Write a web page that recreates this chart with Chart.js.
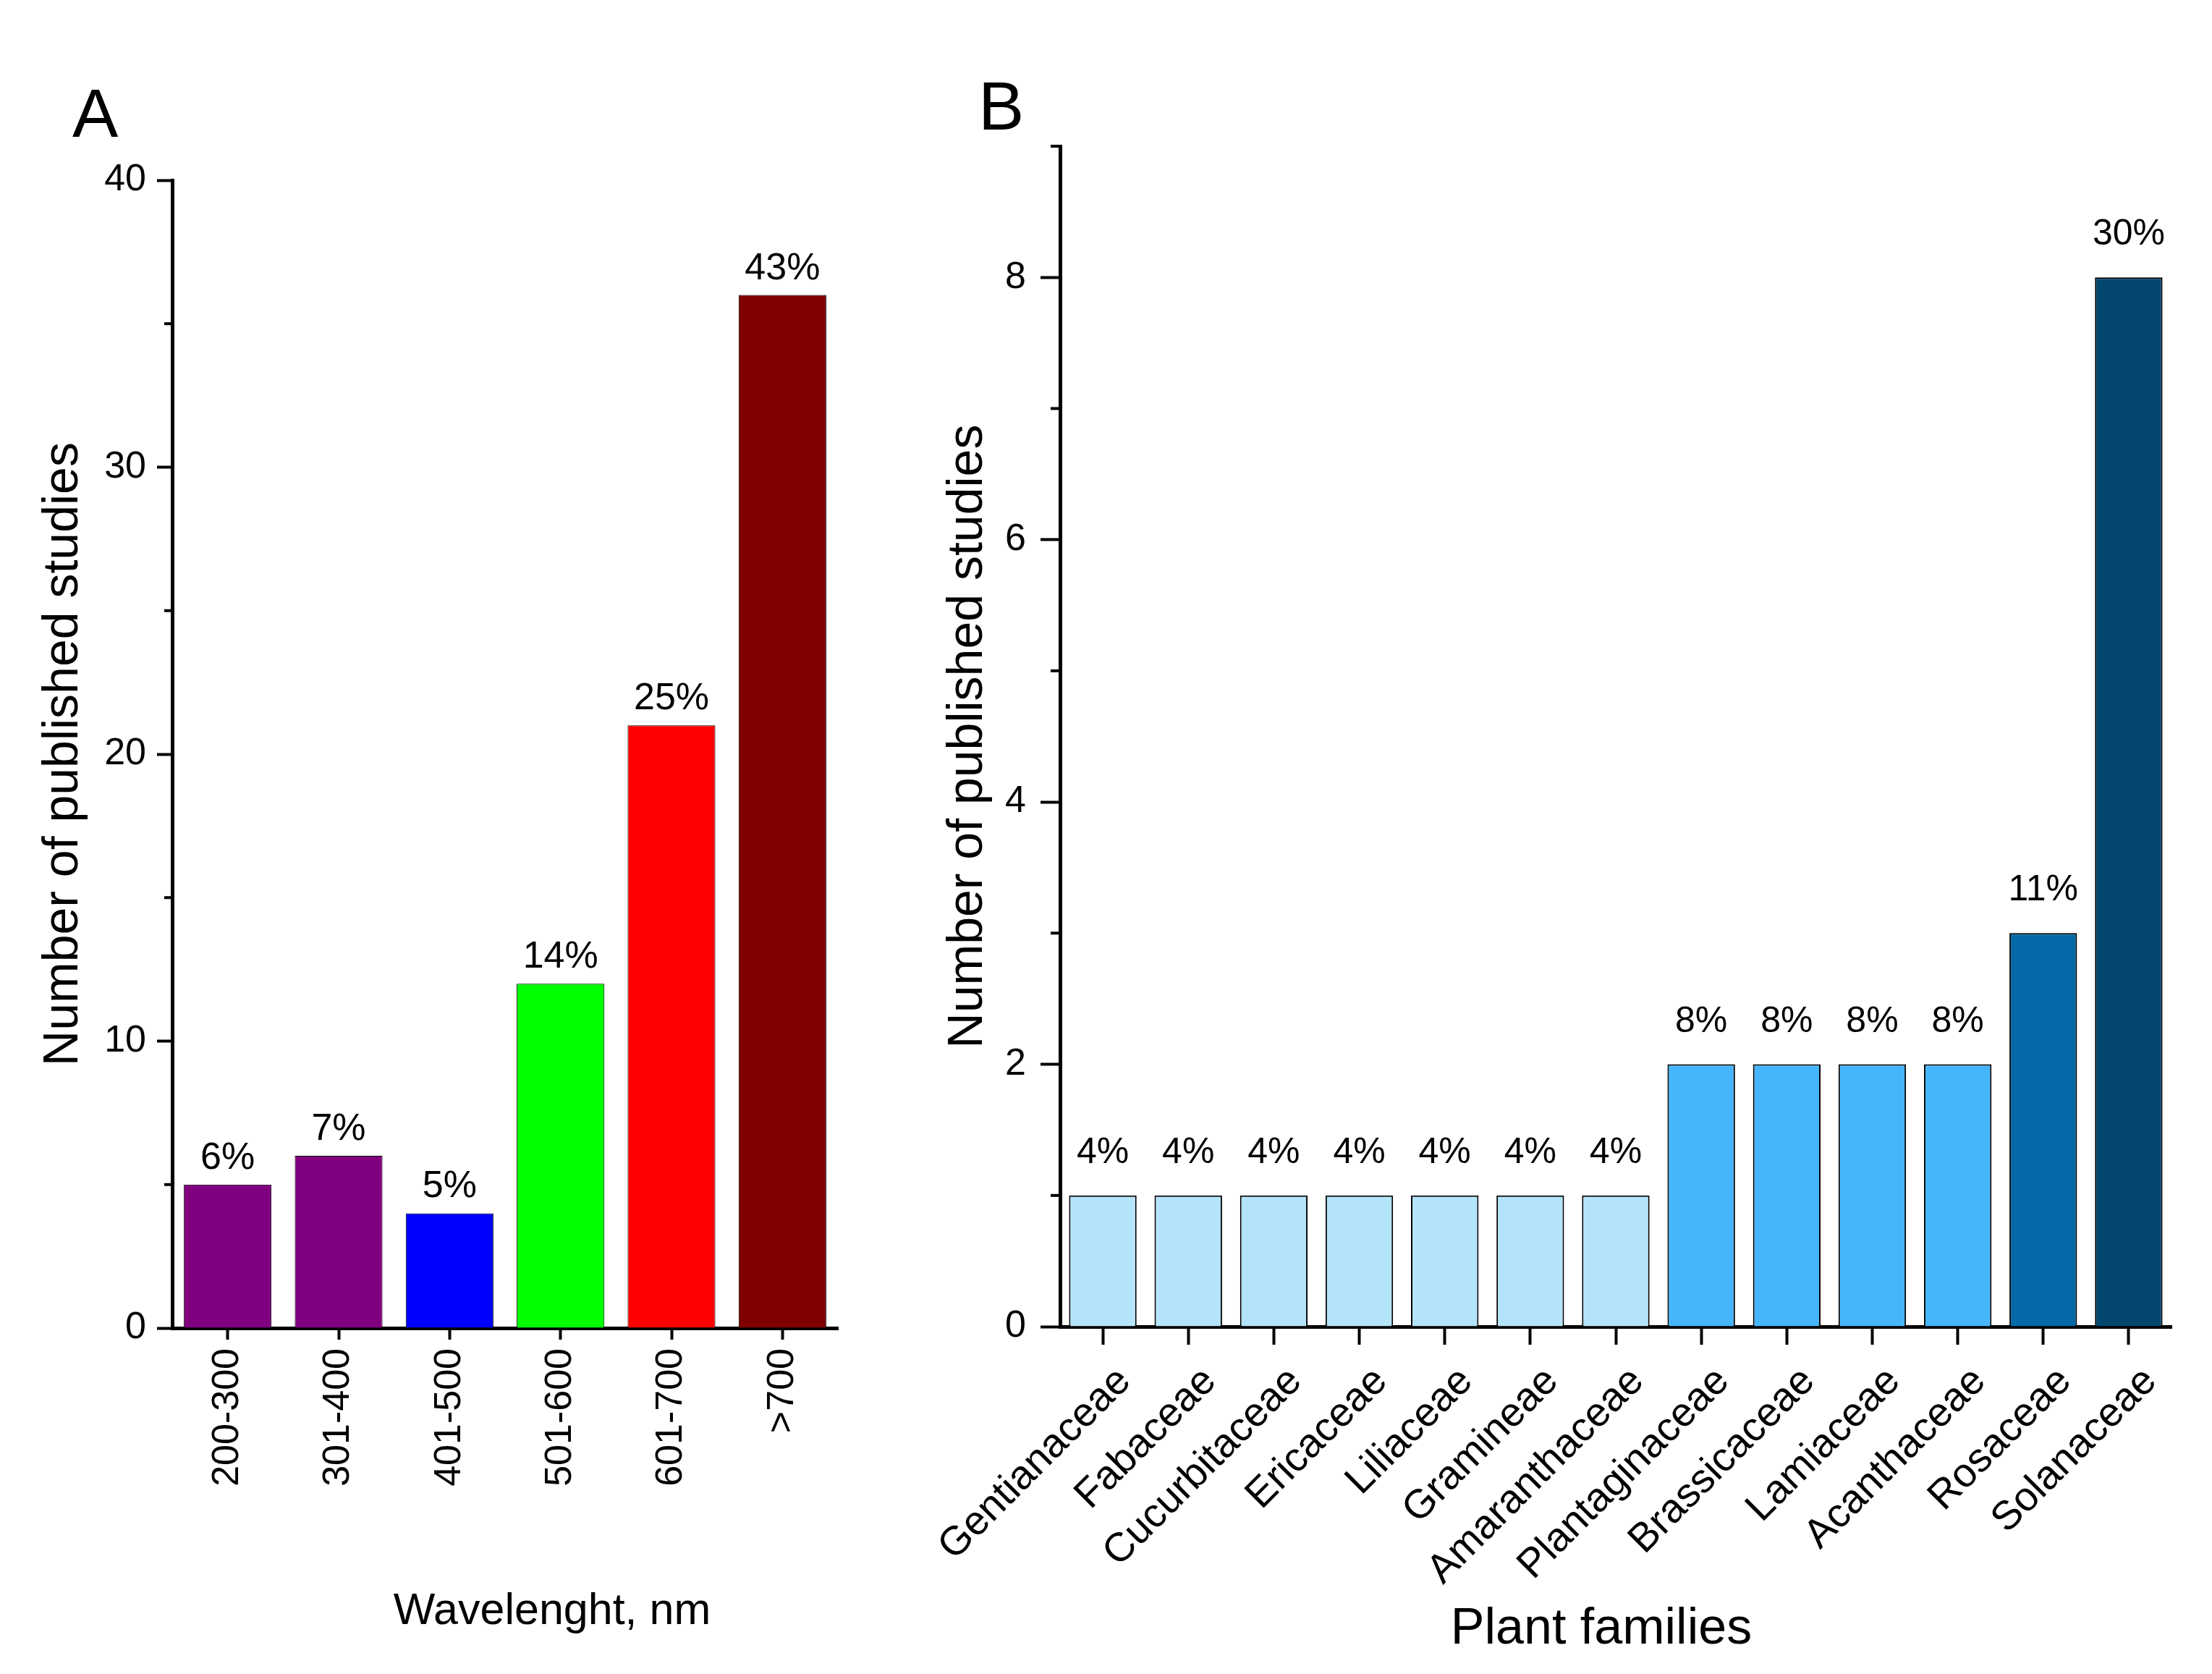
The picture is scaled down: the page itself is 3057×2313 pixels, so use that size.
<!DOCTYPE html>
<html><head><meta charset="utf-8">
<script src="https://cdn.jsdelivr.net/npm/chart.js"></script>
<style>
body{margin:0;background:#fff;width:3057px;height:2313px;position:relative;overflow:hidden;font-family:'Liberation Sans',Arial,sans-serif}
canvas{position:absolute;top:0}
#chartA{left:0}
#chartB{left:1200px}
.panel{position:absolute;font-size:95px;line-height:1;color:#000}
</style></head><body>
<div class="panel" style="left:100px;top:109px">A</div>
<div class="panel" style="left:1352px;top:99px">B</div>
<canvas id="chartA" width="1200" height="2313"></canvas>
<canvas id="chartB" width="1857" height="2313"></canvas>
<script>
const FONT = "'Liberation Sans', Arial, sans-serif";
Chart.defaults.font.family = FONT;
Chart.defaults.color = '#000';

// Panel A - wavelength bands
const wavelengthBands = ['200-300', '301-400', '401-500', '501-600', '601-700', '>700'];
const wavelengthCounts = [5, 6, 4, 12, 21, 36];
const wavelengthPercents = ['6%', '7%', '5%', '14%', '25%', '43%'];
const wavelengthColors = ['#800080', '#800080', '#0000ff', '#00ff00', '#ff0000', '#800000'];

// Panel B - plant families
const plantFamilies = ['Gentianaceae', 'Fabaceae', 'Cucurbitaceae', 'Ericaceae', 'Liliaceae', 'Gramineae',
  'Amaranthaceae', 'Plantaginaceae', 'Brassicaceae', 'Lamiaceae', 'Acanthaceae', 'Rosaceae', 'Solanaceae'];
const familyCounts = [1, 1, 1, 1, 1, 1, 1, 2, 2, 2, 2, 3, 8];
const familyPercents = ['4%', '4%', '4%', '4%', '4%', '4%', '4%', '8%', '8%', '8%', '8%', '11%', '30%'];
const familyColors = ['#b3e4fa', '#b3e4fa', '#b3e4fa', '#b3e4fa', '#b3e4fa', '#b3e4fa', '#b3e4fa',
  '#45b6fb', '#45b6fb', '#45b6fb', '#45b6fb', '#0569a8', '#03466f'];

// percent text above each bar
const percentLabels = {
  id: 'percentLabels',
  afterDatasetsDraw(chart, args, opts) {
    const ctx = chart.ctx;
    ctx.save();
    ctx.font = opts.size + 'px ' + FONT;
    ctx.fillStyle = '#000';
    ctx.textAlign = 'center';
    ctx.textBaseline = 'alphabetic';
    chart.getDatasetMeta(0).data.forEach((bar, i) => {
      ctx.fillText(opts.labels[i], bar.x, bar.y - opts.gap);
    });
    ctx.restore();
  }
};

// short ticks half way between the labelled ones
const minorTicks = {
  id: 'minorTicks',
  afterDraw(chart, args, opts) {
    const y = chart.scales.y;
    const ctx = chart.ctx;
    const x0 = chart.chartArea.left;
    ctx.save();
    ctx.strokeStyle = '#000';
    ctx.lineWidth = 4;
    for (let v = opts.major / 2; v <= y.max; v += opts.major) {
      const py = y.getPixelForValue(v);
      ctx.beginPath();
      ctx.moveTo(x0 - opts.length, py);
      ctx.lineTo(x0, py);
      ctx.stroke();
    }
    ctx.restore();
  }
};

// x titles are not quite centred on their axes in the original
const bottomTitle = {
  id: 'bottomTitle',
  afterDraw(chart, args, opts) {
    if (!opts.text) return;
    const ctx = chart.ctx;
    const area = chart.chartArea;
    ctx.save();
    ctx.font = opts.size + 'px ' + FONT;
    ctx.fillStyle = '#000';
    ctx.textAlign = 'center';
    ctx.textBaseline = 'middle';
    ctx.fillText(opts.text, (area.left + area.right) / 2 + opts.dx, opts.y);
    ctx.restore();
  }
};

const axisGrid = (len) => ({drawOnChartArea: false, offset: false, tickLength: len, tickWidth: 4, tickColor: '#000'});
const axisBorder = {width: 5, color: '#000'};

new Chart(document.getElementById('chartA'), {
  type: 'bar',
  data: {
    labels: wavelengthBands,
    datasets: [{
      data: wavelengthCounts,
      backgroundColor: wavelengthColors,
      borderColor: '#000',
      borderWidth: 1,
      categoryPercentage: 1,
      barPercentage: 0.79
    }]
  },
  options: {
    responsive: false,
    animation: false,
    devicePixelRatio: 1,
    layout: {padding: {top: 249, right: 42, left: 0, bottom: 0}},
    plugins: {
      legend: {display: false},
      tooltip: {enabled: false},
      percentLabels: {labels: wavelengthPercents, size: 52, gap: 22},
      minorTicks: {major: 10, length: 11},
      bottomTitle: {text: 'Wavelenght, nm', size: 61, dx: 65, y: 2227}
    },
    scales: {
      x: {
        grid: axisGrid(16),
        border: axisBorder,
        ticks: {minRotation: 90, maxRotation: 90, padding: 12, font: {size: 52}},
        afterFit(s) { s.height = 478; }
      },
      y: {
        min: 0,
        max: 40,
        ticks: {stepSize: 10, padding: 15, font: {size: 52}},
        grid: axisGrid(21),
        border: axisBorder,
        title: {display: true, text: 'Number of published studies', font: {size: 68}, padding: {top: 47, bottom: 0}},
        afterFit(s) { s.width = 238; }
      }
    }
  },
  plugins: [percentLabels, minorTicks, bottomTitle]
});

new Chart(document.getElementById('chartB'), {
  type: 'bar',
  data: {
    labels: plantFamilies,
    datasets: [{
      data: familyCounts,
      backgroundColor: familyColors,
      borderColor: '#000',
      borderWidth: 2,
      categoryPercentage: 1,
      barPercentage: 0.79
    }]
  },
  options: {
    responsive: false,
    animation: false,
    devicePixelRatio: 1,
    layout: {padding: {top: 202, right: 56, left: 0, bottom: 0}},
    plugins: {
      legend: {display: false},
      tooltip: {enabled: false},
      percentLabels: {labels: familyPercents, size: 50, gap: 45},
      minorTicks: {major: 2, length: 13},
      bottomTitle: {text: 'Plant families', size: 70, dx: -20, y: 2252}
    },
    scales: {
      x: {
        grid: axisGrid(25),
        border: axisBorder,
        ticks: {minRotation: 45, maxRotation: 45, padding: 18, labelOffset: 30, font: {size: 56}},
        afterFit(s) { s.height = 480; }
      },
      y: {
        min: 0,
        max: 9,
        ticks: {stepSize: 2, includeBounds: false, padding: 20, font: {size: 52}},
        grid: axisGrid(27),
        border: axisBorder,
        title: {display: true, text: 'Number of published studies', font: {size: 68}, padding: {top: 97, bottom: 0}},
        afterFit(s) { s.width = 265; }
      }
    }
  },
  plugins: [percentLabels, minorTicks, bottomTitle]
});
</script>
</body></html>
